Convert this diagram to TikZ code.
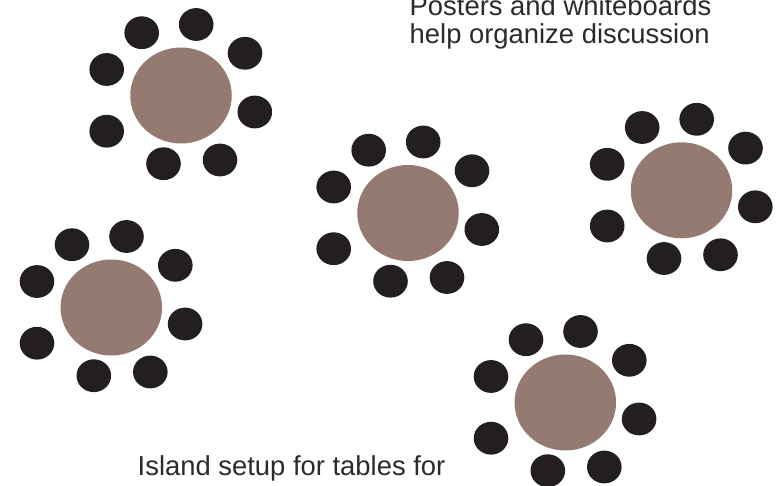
\documentclass[tikz,border=0pt]{standalone}
\usepackage{fontspec}
\setmainfont{Liberation Sans}
\usetikzlibrary{shapes.geometric,calc}
\definecolor{chairblack}{RGB}{35,31,32}
\definecolor{tablebrown}{RGB}{149,122,114}
\definecolor{textgray}{RGB}{45,42,43}
\tikzset{
  tablebox/.style={ellipse, fill=tablebrown, inner sep=0pt, minimum width=101.5pt, minimum height=96pt},
  chairbox/.style={ellipse, fill=chairblack, inner sep=0pt, minimum width=34.6pt, minimum height=32.8pt},
  labeltext/.style={anchor=base west, inner sep=0pt, text=textgray, font=\fontsize{27.4}{33}\selectfont}
}
\begin{document}
\begin{tikzpicture}[x=1pt,y=-1pt]
\clip (0,0) rectangle (781,486);
\fill[white] (0,0) rectangle (781,486);
\foreach \tx/\ty/\tn in {181/95.5/1, 408/213/2, 681.5/190.3/3, 111.3/307.5/4, 565.3/402.5/5}{
  \node[tablebox] (t\tn) at (\tx,\ty) {};
  \foreach \dx/\dy/\cn in {-39.3/-62.8/1, 15.2/-71/2, 64/-42.2/3, -74.3/-26/4, 73.8/16.5/5, -74.3/35.7/6, -17.5/68.2/7, 39/64.5/8}{
    \node[chairbox] (c\tn-\cn) at ($(t\tn.center)+(\dx,\dy)$) {};
  }
}
\node[labeltext] (poster1) at (409.5,16) {Posters and whiteboards};
\node[labeltext] (poster2) at (409.5,44) {help organize discussion};
\node[labeltext] (island) at (137.5,475) {Island setup for tables for};
\end{tikzpicture}
\end{document}
